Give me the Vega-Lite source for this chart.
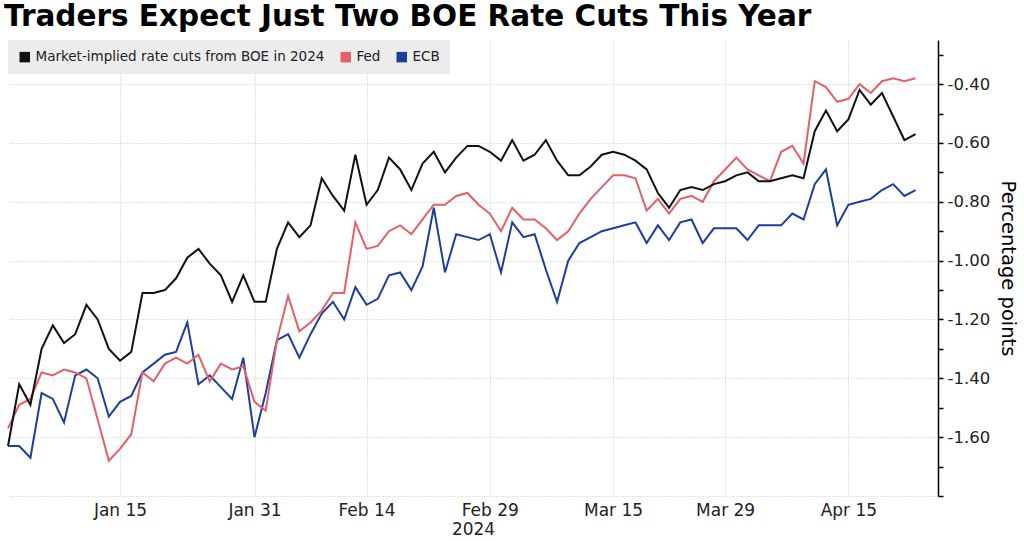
{
  "$schema": "https://vega.github.io/schema/vega-lite/v6.json",
  "autosize": "none",
  "width": 930,
  "height": 456,
  "padding": {"left": 8, "top": 40, "right": 86, "bottom": 45},
  "background": "white",
  "title": {
    "text": "Traders Expect Just Two BOE Rate Cuts This Year",
    "anchor": "start",
    "frame": "group",
    "font": "DejaVu Sans",
    "fontSize": 29.5,
    "fontWeight": "bold",
    "color": "#000000",
    "dx": -4,
    "offset": 8
  },
  "data": {
    "values": [
      {"date": "2024-01-01", "BOE": -1.63, "Fed": -1.57, "ECB": -1.63},
      {"date": "2024-01-02", "BOE": -1.42, "Fed": -1.49, "ECB": -1.63},
      {"date": "2024-01-03", "BOE": -1.49, "Fed": -1.47, "ECB": -1.67},
      {"date": "2024-01-04", "BOE": -1.30, "Fed": -1.38, "ECB": -1.45},
      {"date": "2024-01-05", "BOE": -1.22, "Fed": -1.39, "ECB": -1.47},
      {"date": "2024-01-08", "BOE": -1.28, "Fed": -1.37, "ECB": -1.55},
      {"date": "2024-01-09", "BOE": -1.25, "Fed": -1.38, "ECB": -1.39},
      {"date": "2024-01-10", "BOE": -1.15, "Fed": -1.40, "ECB": -1.37},
      {"date": "2024-01-11", "BOE": -1.20, "Fed": -1.54, "ECB": -1.40},
      {"date": "2024-01-12", "BOE": -1.30, "Fed": -1.68, "ECB": -1.53},
      {"date": "2024-01-15", "BOE": -1.34, "Fed": -1.64, "ECB": -1.48},
      {"date": "2024-01-16", "BOE": -1.31, "Fed": -1.59, "ECB": -1.46},
      {"date": "2024-01-17", "BOE": -1.11, "Fed": -1.38, "ECB": -1.38},
      {"date": "2024-01-18", "BOE": -1.11, "Fed": -1.41, "ECB": -1.35},
      {"date": "2024-01-19", "BOE": -1.10, "Fed": -1.35, "ECB": -1.32},
      {"date": "2024-01-22", "BOE": -1.06, "Fed": -1.33, "ECB": -1.31},
      {"date": "2024-01-23", "BOE": -0.99, "Fed": -1.35, "ECB": -1.21},
      {"date": "2024-01-24", "BOE": -0.96, "Fed": -1.32, "ECB": -1.42},
      {"date": "2024-01-25", "BOE": -1.01, "Fed": -1.41, "ECB": -1.39},
      {"date": "2024-01-26", "BOE": -1.05, "Fed": -1.35, "ECB": -1.43},
      {"date": "2024-01-29", "BOE": -1.14, "Fed": -1.37, "ECB": -1.47},
      {"date": "2024-01-30", "BOE": -1.05, "Fed": -1.36, "ECB": -1.33},
      {"date": "2024-01-31", "BOE": -1.14, "Fed": -1.48, "ECB": -1.60},
      {"date": "2024-02-01", "BOE": -1.14, "Fed": -1.51, "ECB": -1.45},
      {"date": "2024-02-02", "BOE": -0.96, "Fed": -1.27, "ECB": -1.27},
      {"date": "2024-02-05", "BOE": -0.87, "Fed": -1.12, "ECB": -1.25},
      {"date": "2024-02-06", "BOE": -0.92, "Fed": -1.24, "ECB": -1.33},
      {"date": "2024-02-07", "BOE": -0.88, "Fed": -1.21, "ECB": -1.25},
      {"date": "2024-02-08", "BOE": -0.72, "Fed": -1.17, "ECB": -1.18},
      {"date": "2024-02-09", "BOE": -0.78, "Fed": -1.11, "ECB": -1.14},
      {"date": "2024-02-12", "BOE": -0.83, "Fed": -1.11, "ECB": -1.20},
      {"date": "2024-02-13", "BOE": -0.64, "Fed": -0.87, "ECB": -1.09},
      {"date": "2024-02-14", "BOE": -0.81, "Fed": -0.96, "ECB": -1.15},
      {"date": "2024-02-15", "BOE": -0.76, "Fed": -0.95, "ECB": -1.13},
      {"date": "2024-02-16", "BOE": -0.65, "Fed": -0.90, "ECB": -1.05},
      {"date": "2024-02-19", "BOE": -0.69, "Fed": -0.88, "ECB": -1.04},
      {"date": "2024-02-20", "BOE": -0.76, "Fed": -0.91, "ECB": -1.10},
      {"date": "2024-02-21", "BOE": -0.67, "Fed": -0.86, "ECB": -1.02},
      {"date": "2024-02-22", "BOE": -0.63, "Fed": -0.81, "ECB": -0.82},
      {"date": "2024-02-23", "BOE": -0.70, "Fed": -0.81, "ECB": -1.04},
      {"date": "2024-02-26", "BOE": -0.65, "Fed": -0.78, "ECB": -0.91},
      {"date": "2024-02-27", "BOE": -0.61, "Fed": -0.77, "ECB": -0.92},
      {"date": "2024-02-28", "BOE": -0.61, "Fed": -0.81, "ECB": -0.93},
      {"date": "2024-02-29", "BOE": -0.63, "Fed": -0.84, "ECB": -0.91},
      {"date": "2024-03-01", "BOE": -0.66, "Fed": -0.90, "ECB": -1.04},
      {"date": "2024-03-04", "BOE": -0.59, "Fed": -0.82, "ECB": -0.87},
      {"date": "2024-03-05", "BOE": -0.66, "Fed": -0.86, "ECB": -0.92},
      {"date": "2024-03-06", "BOE": -0.64, "Fed": -0.86, "ECB": -0.91},
      {"date": "2024-03-07", "BOE": -0.59, "Fed": -0.89, "ECB": -1.03},
      {"date": "2024-03-08", "BOE": -0.66, "Fed": -0.93, "ECB": -1.14},
      {"date": "2024-03-11", "BOE": -0.71, "Fed": -0.90, "ECB": -1.00},
      {"date": "2024-03-12", "BOE": -0.71, "Fed": -0.84, "ECB": -0.94},
      {"date": "2024-03-13", "BOE": -0.68, "Fed": -0.79, "ECB": -0.92},
      {"date": "2024-03-14", "BOE": -0.64, "Fed": -0.75, "ECB": -0.90},
      {"date": "2024-03-15", "BOE": -0.63, "Fed": -0.71, "ECB": -0.89},
      {"date": "2024-03-18", "BOE": -0.64, "Fed": -0.71, "ECB": -0.88},
      {"date": "2024-03-19", "BOE": -0.66, "Fed": -0.72, "ECB": -0.87},
      {"date": "2024-03-20", "BOE": -0.69, "Fed": -0.83, "ECB": -0.94},
      {"date": "2024-03-21", "BOE": -0.77, "Fed": -0.79, "ECB": -0.88},
      {"date": "2024-03-22", "BOE": -0.82, "Fed": -0.84, "ECB": -0.93},
      {"date": "2024-03-25", "BOE": -0.76, "Fed": -0.79, "ECB": -0.87},
      {"date": "2024-03-26", "BOE": -0.75, "Fed": -0.78, "ECB": -0.86},
      {"date": "2024-03-27", "BOE": -0.76, "Fed": -0.80, "ECB": -0.94},
      {"date": "2024-03-28", "BOE": -0.74, "Fed": -0.73, "ECB": -0.89},
      {"date": "2024-03-29", "BOE": -0.73, "Fed": -0.69, "ECB": -0.89},
      {"date": "2024-04-01", "BOE": -0.71, "Fed": -0.65, "ECB": -0.89},
      {"date": "2024-04-02", "BOE": -0.70, "Fed": -0.69, "ECB": -0.93},
      {"date": "2024-04-03", "BOE": -0.73, "Fed": -0.71, "ECB": -0.88},
      {"date": "2024-04-04", "BOE": -0.73, "Fed": -0.73, "ECB": -0.88},
      {"date": "2024-04-05", "BOE": -0.72, "Fed": -0.63, "ECB": -0.88},
      {"date": "2024-04-08", "BOE": -0.71, "Fed": -0.61, "ECB": -0.84},
      {"date": "2024-04-09", "BOE": -0.72, "Fed": -0.67, "ECB": -0.86},
      {"date": "2024-04-10", "BOE": -0.56, "Fed": -0.39, "ECB": -0.74},
      {"date": "2024-04-11", "BOE": -0.49, "Fed": -0.41, "ECB": -0.69},
      {"date": "2024-04-12", "BOE": -0.56, "Fed": -0.46, "ECB": -0.88},
      {"date": "2024-04-15", "BOE": -0.52, "Fed": -0.45, "ECB": -0.81},
      {"date": "2024-04-16", "BOE": -0.42, "Fed": -0.40, "ECB": -0.80},
      {"date": "2024-04-17", "BOE": -0.47, "Fed": -0.43, "ECB": -0.79},
      {"date": "2024-04-18", "BOE": -0.43, "Fed": -0.39, "ECB": -0.76},
      {"date": "2024-04-19", "BOE": -0.51, "Fed": -0.38, "ECB": -0.74},
      {"date": "2024-04-22", "BOE": -0.59, "Fed": -0.39, "ECB": -0.78},
      {"date": "2024-04-23", "BOE": -0.57, "Fed": -0.38, "ECB": -0.76}
    ]
  },
  "transform": [
    {"fold": ["ECB", "Fed", "BOE"], "as": ["series", "value"]}
  ],
  "mark": {"type": "line", "strokeWidth": 2, "strokeJoin": "miter"},
  "encoding": {
    "x": {
      "field": "date",
      "type": "ordinal",
      "sort": "ascending",
      "scale": {"type": "point", "padding": 1.42, "align": 0, "round": false},
      "axis": {
        "title": "2024",
        "values": ["2024-01-15", "2024-01-31", "2024-02-14", "2024-02-29", "2024-03-15", "2024-03-29", "2024-04-15"],
        "labelExpr": "utcFormat(toDate(datum.value), '%b %d')",
        "labelAngle": 0,
        "labelFont": "DejaVu Sans",
        "labelFontSize": 17,
        "labelColor": "#222222",
        "labelPadding": 6,
        "ticks": false,
        "tickSize": 0,
        "domain": false,
        "grid": true,
        "gridColor": "#c4c4c4",
        "gridDash": [1, 2],
        "gridWidth": 1,
        "titleFont": "DejaVu Sans",
        "titleFontSize": 17,
        "titleFontWeight": "normal",
        "titleColor": "#222222",
        "titlePadding": 3
      }
    },
    "y": {
      "field": "value",
      "type": "quantitative",
      "scale": {"domain": [-1.8, -0.25], "nice": false, "zero": false},
      "axis": {
        "orient": "right",
        "title": "Percentage points",
        "values": [-1.8, -1.7, -1.6, -1.5, -1.4, -1.3, -1.2, -1.1, -1.0, -0.9, -0.8, -0.7, -0.6, -0.5, -0.4, -0.3],
        "labelExpr": "(round(datum.value*10) % 2 == 0 && datum.value > -1.75) ? '-' + format(-datum.value, '.2f') : ''",
        "labelFont": "DejaVu Sans",
        "labelFontSize": 16.5,
        "labelColor": "#222222",
        "labelPadding": 4,
        "labelBaseline": "middle",
        "tickSize": 5,
        "tickColor": "#000000",
        "tickWidth": 1.5,
        "domain": true,
        "domainColor": "#000000",
        "domainWidth": 1.5,
        "grid": true,
        "gridColor": "#c4c4c4",
        "gridDash": [1, 2],
        "gridWidth": 1,
        "gridOpacity": {"condition": {"test": "round(datum.value*10) % 2 == 0", "value": 1}, "value": 0},
        "titleFont": "DejaVu Sans",
        "titleFontSize": 19.5,
        "titleFontWeight": "normal",
        "titleColor": "#000000",
        "titlePadding": 8
      }
    },
    "color": {
      "field": "series",
      "type": "nominal",
      "sort": ["BOE", "Fed", "ECB"],
      "scale": {"domain": ["BOE", "Fed", "ECB"], "range": ["#111111", "#e26068", "#1c3f9c"]},
      "legend": {
        "title": null,
        "orient": "top-left",
        "offset": 0,
        "direction": "horizontal",
        "fillColor": "#ececec",
        "padding": 10,
        "symbolType": "square",
        "symbolSize": 110,
        "symbolStrokeWidth": 0,
        "labelOffset": 4,
        "columnPadding": 14,
        "labelFont": "DejaVu Sans",
        "labelFontSize": 13.5,
        "labelLimit": 0,
        "labelColor": "#222222",
        "labelExpr": "datum.label == 'BOE' ? 'Market-implied rate cuts from BOE in 2024' : datum.label",
        "encode": {
          "symbols": {
            "update": {
              "fill": {"scale": "color", "field": "value"},
              "strokeWidth": {"value": 0}
            }
          }
        }
      }
    }
  },
  "config": {
    "view": {"stroke": null}
  }
}
